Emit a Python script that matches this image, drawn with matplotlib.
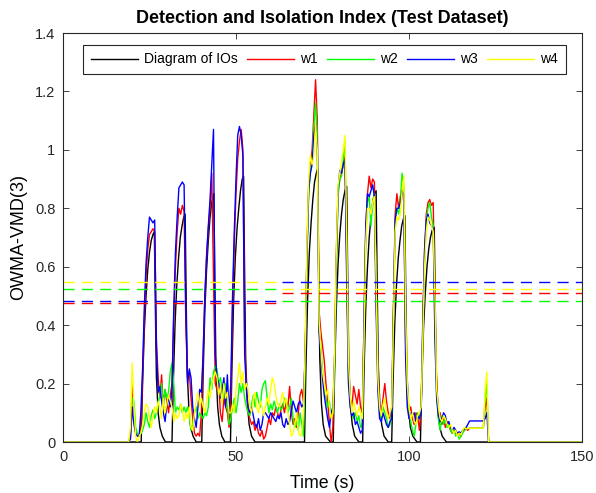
import numpy as np
import matplotlib
matplotlib.use("Agg")
import matplotlib.pyplot as plt

plt.rcParams["font.family"] = ["Liberation Sans", "DejaVu Sans"]

# curva preta (diagrama dos IOs)
io_t = [0,
        22.6, 23.0, 23.5, 24.0, 24.5, 25.0, 25.5, 26.0, 26.4, 26.7, 27.0, 27.5, 28.0, 28.7, 29.6,
        31.5, 31.9, 32.4, 32.9, 33.4, 33.9, 34.4, 34.9, 35.3, 35.6, 35.9, 36.4, 36.9, 37.6, 38.5,
        40.1, 40.5, 41.0, 41.5, 42.0, 42.5, 43.0, 43.6, 43.9, 44.2, 44.7, 45.2, 45.9, 46.8,
        48.4, 48.8, 49.3, 49.8, 50.3, 50.8, 51.3, 51.8, 52.2, 52.5, 52.8, 53.3, 53.8, 54.5, 55.5,
        69.8, 70.2, 70.7, 71.2, 71.7, 72.2, 72.7, 73.2, 73.6, 73.9, 74.2, 74.7, 75.2, 75.9, 77.3,
        78.1, 78.5, 79.0, 79.5, 80.0, 80.5, 81.0, 81.5, 82.0, 82.3, 82.6, 83.1, 83.6, 84.3, 85.5,
        86.6, 87.0, 87.5, 88.0, 88.5, 89.0, 89.5, 90.0, 90.5, 90.8, 91.1, 91.6, 92.1, 92.8, 94.0,
        95.0, 95.4, 95.9, 96.4, 96.9, 97.4, 97.9, 98.4, 98.8, 99.1, 99.4, 99.9, 100.4, 101.1, 102.3,
        103.3, 103.7, 104.2, 104.7, 105.2, 105.7, 106.2, 106.7, 107.3, 107.6, 107.9, 108.4, 108.9, 109.6, 110.8,
        150]
io_v = [0,
        0, 0.2, 0.38, 0.5, 0.59, 0.65, 0.69, 0.71, 0.72, 0.45, 0.22, 0.1, 0.05, 0.02, 0,
        0, 0.21, 0.41, 0.54, 0.63, 0.7, 0.74, 0.77, 0.78, 0.49, 0.24, 0.11, 0.05, 0.02, 0,
        0, 0.23, 0.45, 0.59, 0.69, 0.77, 0.82, 0.85, 0.53, 0.26, 0.12, 0.06, 0.02, 0,
        0, 0.24, 0.48, 0.63, 0.73, 0.8, 0.86, 0.9, 0.91, 0.57, 0.28, 0.13, 0.06, 0.02, 0,
        0, 0.25, 0.49, 0.65, 0.75, 0.83, 0.89, 0.92, 0.935, 0.58, 0.29, 0.13, 0.06, 0.02, 0,
        0, 0.24, 0.46, 0.61, 0.71, 0.78, 0.83, 0.86, 0.875, 0.55, 0.27, 0.12, 0.06, 0.02, 0,
        0, 0.24, 0.46, 0.6, 0.7, 0.77, 0.82, 0.85, 0.86, 0.54, 0.27, 0.12, 0.06, 0.02, 0,
        0, 0.21, 0.41, 0.54, 0.63, 0.69, 0.74, 0.765, 0.775, 0.48, 0.24, 0.11, 0.05, 0.02, 0,
        0, 0.2, 0.39, 0.51, 0.6, 0.66, 0.7, 0.725, 0.735, 0.46, 0.23, 0.1, 0.05, 0.02, 0,
        0]

# grade de tempo das curvas w1..w4 (de 19 s a 124 s, passo 0.5 s)
t_w = np.arange(19.0, 124.01, 0.5)

w1 = [0, 0.02, 0.2, 0.1, 0.03, 0.02, 0.02, 0.05,
      0.22, 0.42, 0.57, 0.66, 0.71, 0.72, 0.73, 0.72, 0.35, 0.22,
      0.15, 0.23, 0.12, 0.18, 0.14, 0.1, 0.16,
      0.2, 0.42, 0.6, 0.72, 0.8, 0.78, 0.81, 0.79, 0.4,
      0.22, 0.24, 0.15, 0.08, 0.03, 0.02, 0.03, 0.02, 0.1,
      0.3, 0.5, 0.63, 0.73, 0.8, 0.92, 0.55, 0.2,
      0.18, 0.2, 0.1, 0.07, 0.15, 0.12, 0.1, 0.05,
      0.15, 0.45, 0.68, 0.85, 0.97, 1.03, 1.07, 1.0, 0.35,
      0.2, 0.1, 0.08, 0.06, 0.07, 0.04, 0.06, 0.03, 0.02, 0.04, 0.01, 0.02, 0.05, 0.08, 0.06, 0.1, 0.09,
      0.12, 0.1, 0.08, 0.11, 0.13, 0.1, 0.14, 0.12, 0.19, 0.1, 0.06, 0.08, 0.05, 0.1, 0.16, 0.18, 0.14,
      0.3, 0.65, 0.88, 0.95, 1.0, 1.12, 1.24, 1.1, 0.45,
      0.38, 0.33, 0.28, 0.2, 0.14, 0.06, 0.0, 0.05,
      0.3, 0.65, 0.86, 0.9, 0.92, 0.95, 0.98, 0.6, 0.25,
      0.15, 0.12, 0.19, 0.16, 0.13, 0.18, 0.12, 0.1,
      0.4, 0.72, 0.85, 0.91, 0.87, 0.9, 0.89, 0.5,
      0.25, 0.12, 0.1, 0.15, 0.2, 0.14, 0.1, 0.08, 0.12,
      0.45, 0.78, 0.85, 0.8, 0.84, 0.87, 0.82,
      0.35,
      0.15, 0.1, 0.12, 0.08, 0.06, 0.1, 0.09, 0.04, 0.12,
      0.4, 0.65, 0.78, 0.82, 0.83, 0.81, 0.82, 0.45,
      0.2, 0.1, 0.1, 0.06, 0.08, 0.05, 0.07, 0.06, 0.04, 0.03, 0.04, 0.03, 0.025, 0.03,
      0.02, 0.035, 0.04, 0.045, 0.04, 0.047, 0.047, 0.047, 0.047, 0.047, 0.047, 0.047, 0.047,
      0.05, 0.12, 0.15, 0, 0, 0]

w2 = [0, 0.03, 0.15, 0.14, 0.05, 0.03, 0.02, 0.03,
      0.04, 0.06, 0.1, 0.07, 0.05, 0.09, 0.11, 0.08, 0.1, 0.13,
      0.16, 0.2, 0.12, 0.18, 0.15, 0.17, 0.24,
      0.27, 0.2, 0.1, 0.12, 0.11, 0.13, 0.1, 0.12, 0.1,
      0.12, 0.09, 0.04, 0.06, 0.1, 0.12, 0.08, 0.1, 0.09,
      0.08, 0.1, 0.09, 0.12, 0.22, 0.18, 0.24, 0.26,
      0.25, 0.2, 0.22, 0.18, 0.15, 0.2, 0.12, 0.06,
      0.08, 0.12, 0.15, 0.1, 0.14, 0.2, 0.17, 0.2, 0.15,
      0.12, 0.1, 0.09, 0.13, 0.16, 0.12, 0.17, 0.14, 0.12, 0.18, 0.2, 0.21, 0.15, 0.1, 0.13, 0.11, 0.14,
      0.12, 0.1, 0.13, 0.11, 0.12, 0.15, 0.13, 0.1, 0.12, 0.15, 0.08, 0.05, 0.07, 0.04, 0.1, 0.06, 0.02,
      0.28, 0.62, 0.85, 0.93, 0.96, 1.08, 1.16, 1.05, 0.4,
      0.33, 0.25, 0.18, 0.15, 0.12, 0.14, 0.08, 0.1,
      0.25, 0.6, 0.84, 0.9, 0.91, 0.97, 1.03, 0.65, 0.22,
      0.14, 0.1, 0.08, 0.1, 0.07, 0.09, 0.05, 0.06,
      0.38, 0.7, 0.82, 0.84, 0.74, 0.82, 0.85, 0.55,
      0.2, 0.1, 0.08, 0.12, 0.1, 0.08, 0.05, 0.06, 0.1,
      0.42, 0.75, 0.8, 0.78, 0.83, 0.92, 0.88,
      0.4,
      0.18, 0.1, 0.07, 0.04, 0.02, 0.06, 0.1, 0.08, 0.12,
      0.38, 0.62, 0.76, 0.8, 0.82, 0.77, 0.74, 0.4,
      0.15, 0.08, 0.04, 0.09, 0.06, 0.08, 0.05, 0.06, 0.04, 0.03, 0.04, 0.02, 0.03, 0.01,
      0.02, 0.03, 0.04, 0.05, 0.045, 0.047, 0.047, 0.047, 0.047, 0.047, 0.047, 0.047, 0.047,
      0.05, 0.15, 0.2, 0, 0, 0]

w3 = [0, 0.01, 0.12, 0.06, 0.03, 0.02, 0.02, 0.1,
      0.25, 0.46, 0.61, 0.7, 0.77, 0.76, 0.75, 0.76, 0.32, 0.17,
      0.19, 0.14, 0.1, 0.07, 0.13, 0.15, 0.12,
      0.18, 0.45, 0.65, 0.77, 0.87, 0.88, 0.89, 0.88, 0.45,
      0.2, 0.25, 0.22, 0.12, 0.08, 0.05, 0.12, 0.18, 0.17,
      0.3, 0.5, 0.64, 0.74, 0.83, 0.95, 1.07, 0.3,
      0.22, 0.2, 0.15, 0.18, 0.22, 0.12, 0.23, 0.1,
      0.2, 0.5, 0.72, 0.9, 1.05, 1.08, 1.05, 0.98, 0.3,
      0.18, 0.12, 0.1, 0.12, 0.09, 0.06, 0.05, 0.08, 0.04, 0.06, 0.1, 0.1, 0.09, 0.08, 0.1, 0.09, 0.08,
      0.07, 0.09, 0.08, 0.1, 0.06, 0.05, 0.08, 0.06, 0.07, 0.11, 0.14, 0.12, 0.1, 0.13, 0.14, 0.12, 0.13,
      0.3, 0.64, 0.86, 0.92, 0.95, 1.05, 1.09, 1.02, 0.38,
      0.3, 0.22, 0.16, 0.12, 0.08, 0.05, 0.1, 0.12,
      0.28, 0.62, 0.86, 0.93, 0.92, 0.95, 0.97, 0.55, 0.2,
      0.12, 0.09, 0.1, 0.06, 0.07, 0.05, 0.03, 0.04,
      0.42, 0.74, 0.85, 0.84, 0.86, 0.88, 0.84, 0.45,
      0.18, 0.08, 0.07, 0.1, 0.08, 0.06, 0.05, 0.07, 0.08,
      0.44, 0.76, 0.8, 0.8, 0.82, 0.86, 0.85,
      0.3,
      0.12, 0.08, 0.1, 0.09, 0.1, 0.07, 0.09, 0.08, 0.1,
      0.42, 0.66, 0.76, 0.78, 0.75, 0.74, 0.73, 0.35,
      0.15, 0.09, 0.07, 0.08, 0.1, 0.09, 0.06, 0.07, 0.05, 0.04, 0.05, 0.04, 0.03, 0.035,
      0.03, 0.04, 0.045, 0.05, 0.06, 0.072, 0.072, 0.072, 0.072, 0.072, 0.072, 0.072, 0.072,
      0.072, 0.08, 0.1, 0, 0, 0]

w4 = [0, 0.05, 0.27, 0.12, 0.02, 0.0, 0.02, 0.03,
      0.06, 0.1, 0.13, 0.12, 0.08, 0.05, 0.09, 0.12, 0.1, 0.14,
      0.12, 0.08, 0.15, 0.1, 0.13, 0.16, 0.14,
      0.12, 0.07, 0.1, 0.08, 0.09, 0.13, 0.11, 0.07, 0.1,
      0.08, 0.12, 0.05, 0.04, 0.1, 0.14, 0.17, 0.12, 0.15,
      0.12, 0.1, 0.14, 0.18, 0.15, 0.2, 0.22, 0.24,
      0.22, 0.16, 0.19, 0.13, 0.2, 0.15, 0.17, 0.1,
      0.1, 0.13, 0.1, 0.18, 0.22, 0.27, 0.2, 0.24, 0.18,
      0.2, 0.18, 0.12, 0.1, 0.15, 0.17, 0.12, 0.1, 0.14, 0.12, 0.09, 0.12, 0.15, 0.13, 0.18, 0.22, 0.2,
      0.16, 0.13, 0.12, 0.14, 0.17, 0.13, 0.15, 0.1, 0.06, 0.02, 0.03, 0.06, 0.1, 0.04, 0.02, 0.03, 0.1,
      0.32, 0.68, 0.9, 0.98, 0.95, 0.98, 1.09, 1.0, 0.42,
      0.32, 0.24, 0.2, 0.16, 0.18, 0.12, 0.08, 0.1,
      0.3, 0.66, 0.88, 0.92, 0.96, 1.0, 1.05, 0.7, 0.28,
      0.16, 0.1, 0.14, 0.11, 0.09, 0.12, 0.1, 0.08,
      0.35, 0.68, 0.8, 0.8, 0.78, 0.82, 0.84, 0.55,
      0.22, 0.12, 0.09, 0.13, 0.15, 0.1, 0.08, 0.1, 0.12,
      0.4, 0.72, 0.77, 0.76, 0.78, 0.86, 0.91,
      0.45,
      0.2, 0.12, 0.08, 0.1, 0.07, 0.06, 0.09, 0.1, 0.12,
      0.36, 0.6, 0.72, 0.77, 0.76, 0.74, 0.72, 0.5,
      0.18, 0.12, 0.08, 0.07, 0.09, 0.08, 0.06, 0.05, 0.06, 0.04, 0.03, 0.04, 0.02, 0.03,
      0.025, 0.04, 0.05, 0.045, 0.047, 0.047, 0.047, 0.047, 0.047, 0.047, 0.047, 0.047, 0.047,
      0.05, 0.18, 0.24, 0, 0, 0]

# limiares (tracejados): antes e depois de t = 63 s
t_corte = 63.0
lim_antes = [0.476, 0.523, 0.484, 0.546]
lim_depois = [0.509, 0.484, 0.547, 0.523]

nomes = ["w1", "w2", "w3", "w4"]
cores = ["#ff0000", "#00ff00", "#0000ff", "#ffff00"]

fig = plt.figure(figsize=(5.96, 4.93), dpi=100)
ax = fig.add_axes([63 / 596, 51 / 493, 519 / 596, 409 / 493])

ax.plot(io_t, io_v, color="black", lw=1.0, label="Diagram of IOs")
for w, nome, cor in zip([w1, w2, w3, w4], nomes, cores):
    assert len(w) == len(t_w), (nome, len(w), len(t_w))
    ax.plot(np.r_[0, t_w, 150], np.r_[0, w, 0], color=cor, lw=1.0, label=nome)

for ya, yd, cor in zip(lim_antes, lim_depois, cores):
    ax.plot([0, t_corte], [ya, ya], color=cor, lw=1.0, ls=(0, (8, 5.2)))
    ax.plot([t_corte + 0.2, 150], [yd, yd], color=cor, lw=1.0, ls=(0, (8, 5.2)))

ax.set_xlim(0, 150)
ax.set_ylim(0, 1.4)
ax.set_xticks([0, 50, 100, 150])
ax.set_yticks(np.arange(0, 1.41, 0.2))
ax.set_yticklabels(["0", "0.2", "0.4", "0.6", "0.8", "1", "1.2", "1.4"])

for sp in ax.spines.values():
    sp.set_color("#262626")
    sp.set_linewidth(0.8)
ax.tick_params(direction="in", top=True, right=True, length=4, width=0.6,
               colors="#262626", labelsize=10.5)
ax.tick_params(axis="x", pad=6)
ax.tick_params(axis="y", pad=5.5)

leg = ax.legend(loc="upper left", bbox_to_anchor=(0.0385, 0.971), ncol=5,
                fontsize=10, frameon=True, fancybox=False, framealpha=1,
                edgecolor="#262626", handlelength=3.4, handletextpad=0.43,
                columnspacing=0.66, borderpad=0.55, borderaxespad=0)
leg.get_frame().set_linewidth(0.8)

fig.text(322 / 596, 1 - 18.5 / 493, "Detection and Isolation Index (Test Dataset)",
         ha="center", va="center", fontsize=13, fontweight="bold")
fig.text(322 / 596, 1 - 483 / 493, "Time (s)", ha="center", va="center", fontsize=12.8)
fig.text(18.5 / 596, 1 - 237 / 493, "OWMA-VMD(3)", ha="center", va="center",
         rotation=90, fontsize=13)

fig.savefig("out.png", dpi=100)
